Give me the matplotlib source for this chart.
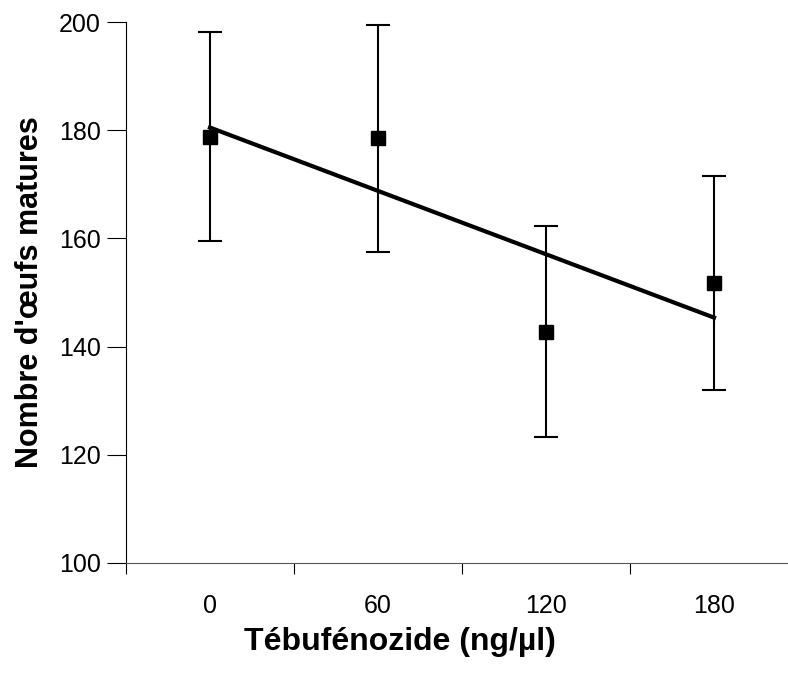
"""Nombre d'oeufs matures vs dose de tébufénozide."""

import matplotlib

matplotlib.use("Agg")
import matplotlib.pyplot as plt
import numpy as np

plt.rcParams["font.family"] = ["Liberation Sans", "DejaVu Sans"]

doses = ["0", "60", "120", "180"]
oeufs = [178.8, 178.5, 142.7, 151.7]
erreurs = [19.3, 21.0, 19.5, 19.8]

x = np.arange(len(doses))
pente, origine = np.polyfit(x, oeufs, 1)

fig = plt.figure(figsize=(7.88, 6.8), dpi=100)
ax = fig.add_axes([126 / 788, 117 / 680, 672 / 788, 541 / 680])

ax.errorbar(x, oeufs, yerr=erreurs, fmt="none", ecolor="black",
            elinewidth=1.5, capsize=8.5, capthick=1.5, zorder=2)
ax.plot(x, oeufs, "s", color="black", markersize=10.5, zorder=3)
ax.plot(x, pente * x + origine, color="black", linewidth=3, zorder=4)

ax.set_xlim(-0.5, len(doses) - 0.5)
ax.set_ylim(100, 200)
ax.set_yticks(range(100, 201, 20))
ax.set_xticks(x)
ax.set_xticklabels(doses)
ax.set_xticks(np.arange(-0.5, len(doses), 1), minor=True)
ax.tick_params(axis="x", which="major", length=0, pad=22, labelsize=18)
ax.tick_params(axis="x", which="minor", length=8, width=0.8, direction="out")
ax.tick_params(axis="y", length=14, width=0.8, direction="out", labelsize=18, pad=4)
for s in ["top", "right"]:
    ax.spines[s].set_visible(False)
ax.spines["left"].set_linewidth(0.8)
ax.spines["bottom"].set_linewidth(0.8)
ax.spines["bottom"].set_color("#555555")

ax.set_xlabel("Tébufénozide (ng/µl)", fontsize=23, fontweight="bold")
ax.xaxis.set_label_coords(0.408, -0.118)
ax.set_ylabel("Nombre d'œufs matures", fontsize=22, fontweight="bold", labelpad=10)

fig.savefig("out.png", dpi=100)
plt.close(fig)
